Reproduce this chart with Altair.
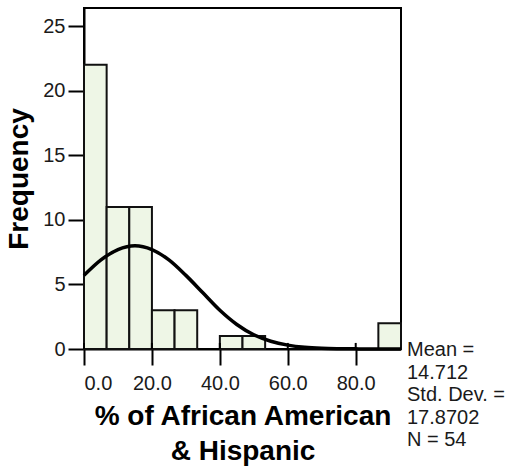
import altair as alt
import pandas as pd

# Histogram bins: bin start, bin end, frequency
bin_start = [0.0, 6.667, 13.333, 20.0, 26.667, 40.0, 46.667, 86.667]
bin_end = [6.667, 13.333, 20.0, 26.667, 33.333, 46.667, 53.333, 93.333]
counts = [22, 11, 11, 3, 3, 1, 1, 2]

# Fitted normal curve
curve_x = [0, 5, 10, 15, 20, 25, 30, 35, 40, 45, 50, 55, 60, 65, 70, 75, 80, 85, 90, 93.3]
curve_y = [5.7, 6.9, 7.7, 8.0, 7.7, 6.9, 5.7, 4.35, 3.0, 1.9, 1.1, 0.6, 0.3, 0.13, 0.05, 0.02, 0.01, 0.0, 0.0, 0.0]

x_ticks = [0, 20, 40, 60, 80]
y_ticks = [0, 5, 10, 15, 20, 25]
stats_lines = ["Mean =", "14.712", "Std. Dev. =", "17.8702", "N = 54"]

X_MAX = 93.333
Y_MAX = 26.4

bars_df = pd.DataFrame({"start": bin_start, "end": bin_end, "count": counts})
curve_df = pd.DataFrame({"x": curve_x, "y": curve_y})
ticks_df = pd.DataFrame({"x": x_ticks})

FONT = "Liberation Sans"

xscale = alt.Scale(domain=[0, X_MAX], nice=False, zero=False)
yscale = alt.Scale(domain=[0, Y_MAX], nice=False)

xaxis = alt.Axis(
    values=x_ticks, format=".1f", grid=False, tickSize=16, tickWidth=2,
    tickColor="black", domainColor="black", domainWidth=2,
    labelFontSize=20, labelFont=FONT, labelColor="#1a1a1a", labelPadding=8,
    title=["% of African American", "& Hispanic"], titleFont=FONT,
    titleFontSize=28, titleFontWeight="bold", titleColor="black",
    titleLineHeight=35, titlePadding=9,
)
yaxis = alt.Axis(
    values=y_ticks, format="d", grid=False, tickSize=16, tickWidth=2,
    tickColor="black", domainColor="black", domainWidth=2,
    labelFontSize=20, labelFont=FONT, labelColor="#1a1a1a", labelPadding=3,
    title="Frequency", titleFont=FONT, titleFontSize=28,
    titleFontWeight="bold", titleColor="black", titlePadding=9,
)

bars = alt.Chart(bars_df).mark_rect(
    fill="#EEF6E6", stroke="#111111", strokeWidth=2
).encode(
    x=alt.X("start:Q", scale=xscale, axis=xaxis),
    x2="end:Q",
    y=alt.Y("count:Q", scale=yscale, axis=yaxis),
    y2=alt.datum(0),
)

curve = alt.Chart(curve_df).mark_line(
    color="black", strokeWidth=3.5, interpolate="monotone"
).encode(
    x=alt.X("x:Q", scale=xscale),
    y=alt.Y("y:Q", scale=yscale),
)

upper_ticks = alt.Chart(ticks_df).mark_rule(color="black", strokeWidth=2).encode(
    x=alt.X("x:Q", scale=xscale),
    y=alt.datum(0),
    y2=alt.datum(0.47),
)

stats = alt.Chart(pd.DataFrame({"a": [0]})).mark_text(
    text=stats_lines, align="left", baseline="top", font=FONT,
    fontSize=20, lineHeight=22.5, color="#1a1a1a", dx=6, dy=-9,
).encode(
    x=alt.datum(X_MAX),
    y=alt.datum(0),
)

chart = alt.layer(bars, curve, upper_ticks, stats).properties(
    width=317, height=341,
    autosize=alt.AutoSizeParams(type="none"),
    padding={"left": 84, "top": 8, "right": 111, "bottom": 121},
    background="white",
).configure_view(
    stroke="black", strokeWidth=2, fill="white"
)

chart.save("out.html", embed_options={"renderer": "svg", "actions": False})
